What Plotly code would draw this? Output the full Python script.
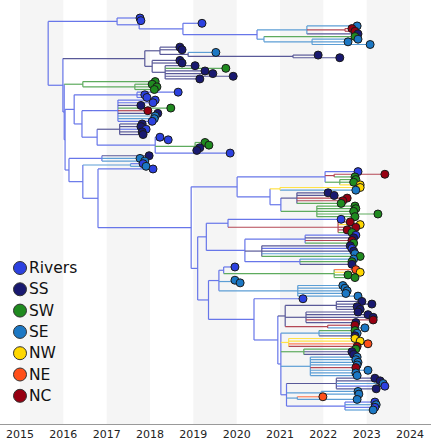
import re
import plotly.graph_objects as go

# ---------------- data ----------------
YEARS = list(range(2015, 2025))
REGIONS = ["Rivers", "SS", "SW", "SE", "NW", "NE", "NC"]
REGION_CODES = ["R", "S", "W", "E", "N", "O", "C"]
REGION_COLORS = ["#2c41e0", "#191970", "#1f8a1f", "#1c78c4", "#ffd700", "#ff4f1a", "#970012"]

# Tree clades: "(children)Region:date" for internal nodes, "Region:date" for tips (date in decimal years)
CLADE_A = ("(R:2017.77,(R:2017.79,(R:2019.20,((E:2022.78,(C:2022.66,C:2022.73)C:2022.50,S:2022.80)E:2021.62,"
           "(W:2022.73,(E:2022.80,E:2022.57,E:2023.08)E:2021.74)E:2020.63)R:2020.47)R:2018.76)R:2017.75)R:2017.24")
CLADE_B = ("((S:2018.69,S:2018.74,(E:2019.52,(S:2021.88,S:2022.38)S:2021.30)S:2018.88)S:2018.23,"
           "(S:2018.69,S:2018.74,(S:2019.04,W:2019.75,S:2019.27,S:2019.45,S:2019.92,S:2019.15)S:2018.35)S:2018.05)S:2017.88")
CLADE_SW = "(W:2018.12,(W:2018.05,W:2018.16,W:2018.10)W:2017.65)W:2016.45"
CLADE_RIV = ("((R:2018.65,R:2017.88,R:2017.93)R:2017.70,((R:2018.12,R:2018.07,S:2017.79,W:2018.48,C:2017.95,"
             "S:2018.18,E:2018.12,E:2018.10,R:2018.05)R:2017.26,((S:2017.82,S:2017.79,R:2017.91,S:2017.82,S:2017.84)S:2017.30,"
             "(R:2018.23,R:2018.42,(W:2019.27,W:2019.36,S:2019.15,S:2019.08)W:2019.04,R:2019.85)R:2018.12)R:2016.78)R:2016.43)R:2016.25")
CLADE_LOW = ("((S:2017.98,E:2017.77,E:2017.88)R:2016.89,((R:2017.84,E:2017.91)E:2017.55,"
             "(R:2018.07,{BIG})R:2016.80)R:2016.45)R:2016.13")
CLADE_BIG = "({L1},(({L2A_TOP},{L2A_BOT})R:2019.30,({L2B},{L2C})R:2019.35)R:2019.10)R:2018.95"
CLADE_L1 = ("((R:2022.80,(C:2023.42,W:2022.73)C:2022.25,(W:2022.75,W:2022.70,N:2022.85)W:2022.38)R:2022.04,"
            "((N:2022.85,E:2022.75)N:2021.00,((S:2022.11,S:2022.25,C:2022.55,C:2022.45,W:2022.41)S:2021.39,"
            "(W:2022.73,W:2022.75,W:2022.70,W:2023.26,W:2022.73)W:2021.85)R:2021.02)R:2020.77)R:2020.01")
CLADE_L2A_TOP = "(R:2022.41,(C:2022.62,N:2022.85,C:2022.75,C:2022.55,W:2022.66)C:2022.34)R:2019.80"
CLADE_L2A_BOT = ("((R:2022.75,S:2022.70,C:2022.66,W:2022.70)R:2021.58,(S:2022.62,R:2022.66,S:2022.70,E:2022.73,W:2022.85)S:2020.58,"
                 "(E:2022.70,W:2022.66,S:2022.66)R:2021.46)R:2020.19")
CLADE_L2B = ("((R:2019.96,(O:2022.75,N:2022.85,W:2022.57,W:2022.73)W:2022.25)R:2019.70,(E:2019.96,E:2020.08)E:2019.90,"
             "(E:2022.45,E:2022.50,E:2022.55,E:2022.52,E:2022.80)E:2021.41)R:2019.59")
CLADE_L2C = "(R:2021.53,({SSCL},{REST})R:2020.95)R:2020.40"
CLADE_SSCL = ("((S:2022.89,S:2023.12,S:2022.78,S:2022.85)S:2022.30,(S:2022.80,S:2023.03,S:2023.15,C:2023.15,S:2022.75)S:2021.60,"
              "(C:2022.73,E:2022.96)C:2022.10)S:2021.12")
CLADE_REST = ("((W:2022.73,E:2022.78,S:2022.73)E:2021.90,(N:2022.73,N:2022.85,O:2023.03,C:2022.78)N:2021.20,"
              "(W:2022.75,S:2022.66,S:2022.70)W:2021.55,(E:2022.78,E:2022.75,E:2022.80,E:2022.78,C:2022.75,E:2023.03,E:2022.75,E:2022.78)E:2021.70,"
              "((S:2023.19,S:2023.31,E:2023.38,R:2023.42,S:2023.22)S:2022.30,(E:2022.80,E:2022.82)E:2021.95,"
              "(O:2021.99,E:2022.78)E:2021.40,(R:2023.19,E:2023.22,R:2023.19,E:2023.15)R:2022.50)R:2021.15)R:2021.02")
TREE_TEMPLATE = "({A},({B},({SW},({RIV},{LOW})R:2016.04)R:2016.02)R:2015.99)R:2015.65"

# ---------------- assemble & parse ----------------
l2c = CLADE_L2C.format(SSCL=CLADE_SSCL, REST=CLADE_REST)
big = CLADE_BIG.format(L1=CLADE_L1, L2A_TOP=CLADE_L2A_TOP, L2A_BOT=CLADE_L2A_BOT, L2B=CLADE_L2B, L2C=l2c)
low = CLADE_LOW.format(BIG=big)
tree_str = TREE_TEMPLATE.format(A=CLADE_A, B=CLADE_B, SW=CLADE_SW, RIV=CLADE_RIV, LOW=low)


def parse(s):
    pos = 0

    def node():
        nonlocal pos
        children = []
        if s[pos] == "(":
            pos += 1
            while True:
                children.append(node())
                if s[pos] == ",":
                    pos += 1
                else:
                    pos += 1
                    break
        m = re.match(r"([A-Z]):([0-9.]+)", s[pos:])
        pos += m.end()
        return {"region": m.group(1), "date": float(m.group(2)), "children": children}

    return node()


root = parse(tree_str)
tips = []


def layout(n):
    if not n["children"]:
        n["y"] = len(tips)
        tips.append(n)
    else:
        for c in n["children"]:
            layout(c)
        n["y"] = (n["children"][0]["y"] + n["children"][-1]["y"]) / 2


layout(root)

code_color = dict(zip(REGION_CODES, REGION_COLORS))


def blend(hexc, a):
    r, g, b = int(hexc[1:3], 16), int(hexc[3:5], 16), int(hexc[5:7], 16)
    return "rgb(%d,%d,%d)" % tuple(round(v * a + 255 * (1 - a)) for v in (r, g, b))


segs = {c: ([], []) for c in REGION_CODES}


def draw(n, parent_date):
    xs, ys = segs[n["region"]]
    if parent_date is not None:
        xs += [parent_date, n["date"], None]
        ys += [n["y"], n["y"], None]
    if n["children"]:
        xs += [n["date"], n["date"], None]
        ys += [n["children"][0]["y"], n["children"][-1]["y"], None]
        for c in n["children"]:
            draw(c, n["date"])


draw(root, None)

fig = go.Figure()
for code in REGION_CODES:
    xs, ys = segs[code]
    if xs:
        fig.add_trace(go.Scatter(x=xs, y=ys, mode="lines",
                                 line=dict(color=blend(code_color[code], 0.72), width=1.2),
                                 hoverinfo="skip", showlegend=False))

fig.add_trace(go.Scatter(
    x=[t["date"] for t in tips], y=[t["y"] for t in tips], mode="markers",
    marker=dict(size=8, color=[code_color[t["region"]] for t in tips],
                line=dict(color="#1a1a1a", width=1)),
    showlegend=False, hoverinfo="skip"))

# ---------------- layout ----------------
W, H = 431, 440
B = 16
plot_h = H - B
N = len(tips)
px_per_tip = (410 - 18) / (N - 1)
y_top = -18 / px_per_tip
y_bot = (N - 1) + (plot_h - 410) / px_per_tip
px_per_year = (410 - 20) / 9.0
x0 = 2015 - 20 / px_per_year
x1 = 2015 + (W - 20) / px_per_year

shapes = []
for yr in YEARS[:-1:2]:
    shapes.append(dict(type="rect", xref="x", yref="paper", x0=yr, x1=yr + 1, y0=0, y1=1,
                       fillcolor="#f5f5f5", line=dict(width=0), layer="below"))

annotations = []
for i, (name, col) in enumerate(zip(REGIONS, REGION_COLORS)):
    yc = 268 + 21.3 * i
    yp = (plot_h - yc) / plot_h
    shapes.append(dict(type="circle", xref="paper", yref="paper", xsizemode="pixel", ysizemode="pixel",
                       xanchor=20 / W, yanchor=yp, x0=-6.5, x1=6.5, y0=-6.5, y1=6.5,
                       fillcolor=col, line=dict(color="#333333", width=1), layer="above"))
    annotations.append(dict(x=27 / W, y=yp, xref="paper", yref="paper", xanchor="left", yanchor="middle",
                            text=name, showarrow=False,
                            font=dict(family="DejaVu Sans", size=15.5, color="#111111")))

fig.update_layout(
    width=W, height=H, margin=dict(l=0, r=0, t=0, b=B, autoexpand=False),
    paper_bgcolor="white", plot_bgcolor="white",
    shapes=shapes, annotations=annotations,
    xaxis=dict(range=[x0, x1], tickvals=YEARS, ticktext=[str(y) for y in YEARS],
               showgrid=False, zeroline=False, showline=True, linecolor="#999999", linewidth=1,
               ticks="", tickfont=dict(family="DejaVu Sans", size=11, color="#222222"), automargin=False),
    yaxis=dict(range=[y_bot, y_top], visible=False, showgrid=False, zeroline=False),
    font=dict(family="DejaVu Sans"),
)

fig.write_html("out.html", config={"displayModeBar": False},
               post_script="document.body.style.margin='0';document.body.style.overflow='hidden';")
